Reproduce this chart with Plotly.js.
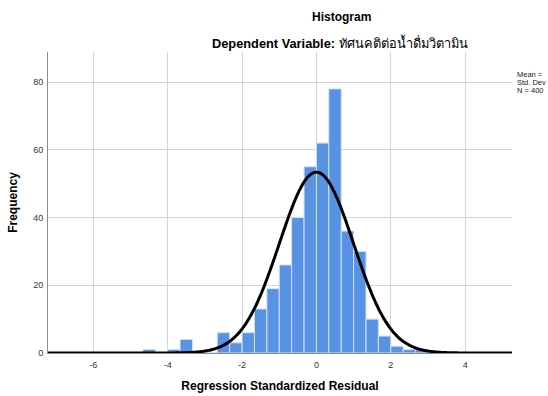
<!DOCTYPE html>
<html>
<head>
<meta charset="utf-8">
<script src="https://cdn.plot.ly/plotly-3.0.1.min.js"></script>
<style>html,body{margin:0;padding:0;background:#fff;}#chart{width:548px;height:396px;}</style>
</head>
<body>
<div id="chart"></div>
<script>
// Histogram bins (lower edges) and frequencies
const binWidth = 1 / 3;
const binLower = [-4.667, -4.333, -4.0, -3.667, -3.333, -3.0, -2.667, -2.333, -2.0, -1.667, -1.333, -1.0,
                  -0.667, -0.333, 0.0, 0.333, 0.667, 1.0, 1.333, 1.667, 2.0, 2.333, 2.667];
const counts   = [1, 0, 1, 4, 0, 0, 6, 3, 6, 13, 19, 26,
                  40, 55, 62, 78, 36, 30, 10, 5, 2, 1, 1];
// Normal-curve parameters (from the chart legend / curve peak)
const curveMean = 0.0;
const curveStd = 0.996;
const curveN = 400;
// Axis ticks
const xTicks = [-6, -4, -2, 0, 2, 4];
const yTicks = [0, 20, 40, 60, 80];
const legendLines = ["Mean =", "Std. Dev", "N = 400"];
const titleText = "Histogram";
const subtitleBold = "Dependent Variable: ";
const subtitleThai = "ทัศนคติต่อน้ำดื่มวิตามิน";

const xRange = [-7.22, 5.26];
const yRange = [0, 88.9];

const binCenters = binLower.map(v => v + binWidth / 2);

// normal curve scaled to counts
const cx = [], cy = [];
const steps = 400;
for (let i = 0; i <= steps; i++) {
  const x = xRange[0] + (xRange[1] - xRange[0]) * i / steps;
  const z = (x - curveMean) / curveStd;
  cx.push(x);
  cy.push(curveN * binWidth * Math.exp(-0.5 * z * z) / (curveStd * Math.sqrt(2 * Math.PI)));
}

const font = "Liberation Sans, Arial, sans-serif";

const traces = [
  {
    type: 'bar',
    x: binCenters,
    y: counts,
    width: binCenters.map(() => binWidth),
    marker: { color: '#5893e3', line: { color: '#cfe0f5', width: 1 } },
    hoverinfo: 'skip'
  },
  {
    type: 'scatter',
    mode: 'lines',
    x: cx,
    y: cy,
    line: { color: '#000000', width: 3, shape: 'spline' },
    hoverinfo: 'skip',
    cliponaxis: false
  }
];

// plot area: left 48, top 52, width 464, height 301
const px = x => (x - 48) / 464;
const py = y => (353 - y) / 301;

const annotations = legendLines.map((t, i) => ({
  xref: 'paper', yref: 'paper', x: px(515), y: py(74 + i * 8.2),
  xanchor: 'left', yanchor: 'middle', showarrow: false,
  text: t, font: { family: font, size: 7.5, color: '#222' }
}));
annotations.push({
  xref: 'paper', yref: 'paper', x: px(341), y: py(17), xanchor: 'center', yanchor: 'middle',
  showarrow: false, text: '<b>' + titleText + '</b>', font: { family: font, size: 12, color: '#000' }
});
annotations.push({
  xref: 'paper', yref: 'paper', x: px(340), y: py(42), xanchor: 'center', yanchor: 'middle',
  showarrow: false, text: '<b>' + subtitleBold + '</b>' + subtitleThai, font: { family: font, size: 12.8, color: '#000' }
});

const layout = {
  width: 548, height: 396,
  margin: { l: 48, r: 36, t: 52, b: 43, pad: 0 },
  paper_bgcolor: '#ffffff', plot_bgcolor: '#ffffff',
  showlegend: false,
  bargap: 0,
  font: { family: font, color: '#222' },
  xaxis: {
    range: xRange, tickvals: xTicks, ticktext: xTicks.map(String),
    showgrid: true, gridcolor: '#d4d4d4', gridwidth: 1,
    zeroline: false, showline: true, linecolor: '#8c8c8c', linewidth: 1,
    ticks: 'outside', ticklen: 3, tickcolor: 'rgba(0,0,0,0)',
    tickfont: { family: font, size: 9, color: '#333' },
    title: { text: '<b>Regression Standardized Residual</b>', font: { family: font, size: 12, color: '#000' }, standoff: 12 }
  },
  yaxis: {
    range: yRange, tickvals: yTicks, ticktext: yTicks.map(String),
    showgrid: true, gridcolor: '#d4d4d4', gridwidth: 1,
    zeroline: false, showline: true, linecolor: '#8c8c8c', linewidth: 1,
    ticks: 'outside', ticklen: 2, tickcolor: 'rgba(0,0,0,0)',
    tickfont: { family: font, size: 9, color: '#333' },
    title: { text: '<b>Frequency</b>', font: { family: font, size: 12, color: '#000' }, standoff: 12 }
  },
  annotations: annotations
};

Plotly.newPlot('chart', traces, layout, { displayModeBar: false, staticPlot: true });
</script>
</body>
</html>
